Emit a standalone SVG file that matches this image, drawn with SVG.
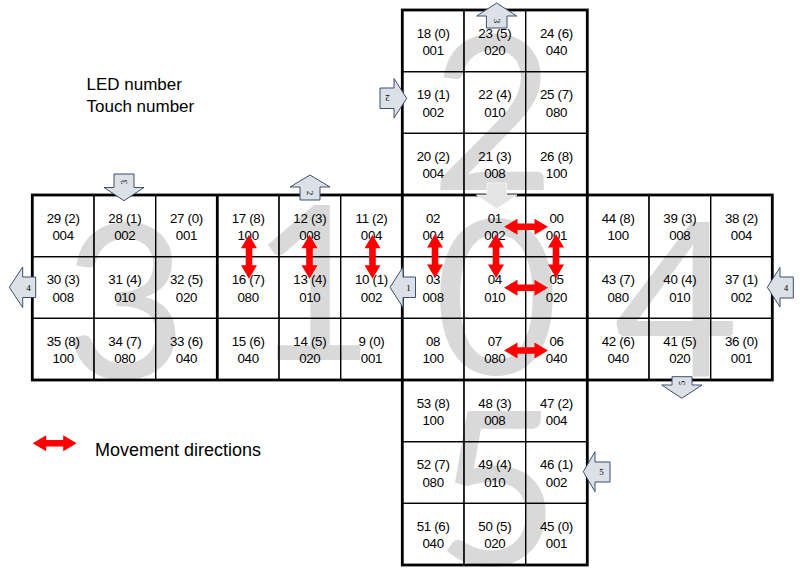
<svg xmlns="http://www.w3.org/2000/svg" width="800" height="574" viewBox="0 0 800 574">
<defs>
<style>
.bg{fill:#fff}
.big{font-family:Lato,"Open Sans",sans-serif;font-size:216px;fill:#d9d9d9;text-anchor:middle}
.cell rect{fill:none;stroke:#000;stroke-width:1.2}
.cell text{font-family:"Liberation Sans",Arial,sans-serif;font-size:13.3px;fill:#000;text-anchor:middle;letter-spacing:-0.3px}
.thick{fill:none;stroke:#000;stroke-width:2.8}
.blk{fill:#dce1e8;stroke:#3b4f6b;stroke-width:1}
.blkt{font-family:"Liberation Serif",serif;font-size:9px;fill:#000;text-anchor:middle}
.note{font-family:"Liberation Sans",Arial,sans-serif;fill:#000}
.red{fill:#ff0000}
</style>
<path id="dbl" d="M-22,0 L-8.5,-8 L-8.5,-3.3 L8.5,-3.3 L8.5,-8 L22,0 L8.5,8 L8.5,3.3 L-8.5,3.3 L-8.5,8 Z"/>
</defs>
<rect class="bg" x="0" y="0" width="800" height="574"/>

<!-- Face 2 -->
<g id="face2" transform="translate(402.3,10)">
<text class="big" x="90.7" y="180">2</text>
<g id="cell18" class="cell"><rect x="0" y="0" width="61.67" height="61.67"/><text x="30.8" y="27.5">18 (0)</text><text x="30.8" y="45">001</text></g>
<g id="cell23" class="cell"><rect x="61.67" y="0" width="61.67" height="61.67"/><text x="92.5" y="27.5">23 (5)</text><text x="92.5" y="45">020</text></g>
<g id="cell24" class="cell"><rect x="123.33" y="0" width="61.67" height="61.67"/><text x="154.2" y="27.5">24 (6)</text><text x="154.2" y="45">040</text></g>
<g id="cell19" class="cell"><rect x="0" y="61.67" width="61.67" height="61.67"/><text x="30.8" y="89.2">19 (1)</text><text x="30.8" y="106.7">002</text></g>
<g id="cell22" class="cell"><rect x="61.67" y="61.67" width="61.67" height="61.67"/><text x="92.5" y="89.2">22 (4)</text><text x="92.5" y="106.7">010</text></g>
<g id="cell25" class="cell"><rect x="123.33" y="61.67" width="61.67" height="61.67"/><text x="154.2" y="89.2">25 (7)</text><text x="154.2" y="106.7">080</text></g>
<g id="cell20" class="cell"><rect x="0" y="123.33" width="61.67" height="61.67"/><text x="30.8" y="150.8">20 (2)</text><text x="30.8" y="168.3">004</text></g>
<g id="cell21" class="cell"><rect x="61.67" y="123.33" width="61.67" height="61.67"/><text x="92.5" y="150.8">21 (3)</text><text x="92.5" y="168.3">008</text></g>
<g id="cell26" class="cell"><rect x="123.33" y="123.33" width="61.67" height="61.67"/><text x="154.2" y="150.8">26 (8)</text><text x="154.2" y="168.3">100</text></g>
</g>

<!-- Face 3 -->
<g id="face3" transform="translate(32.3,195)">
<text class="big" x="92.7" y="183">3</text>
<g id="cell29" class="cell"><rect x="0" y="0" width="61.67" height="61.67"/><text x="30.8" y="27.5">29 (2)</text><text x="30.8" y="45">004</text></g>
<g id="cell28" class="cell"><rect x="61.67" y="0" width="61.67" height="61.67"/><text x="92.5" y="27.5">28 (1)</text><text x="92.5" y="45">002</text></g>
<g id="cell27" class="cell"><rect x="123.33" y="0" width="61.67" height="61.67"/><text x="154.2" y="27.5">27 (0)</text><text x="154.2" y="45">001</text></g>
<g id="cell30" class="cell"><rect x="0" y="61.67" width="61.67" height="61.67"/><text x="30.8" y="89.2">30 (3)</text><text x="30.8" y="106.7">008</text></g>
<g id="cell31" class="cell"><rect x="61.67" y="61.67" width="61.67" height="61.67"/><text x="92.5" y="89.2">31 (4)</text><text x="92.5" y="106.7">010</text></g>
<g id="cell32" class="cell"><rect x="123.33" y="61.67" width="61.67" height="61.67"/><text x="154.2" y="89.2">32 (5)</text><text x="154.2" y="106.7">020</text></g>
<g id="cell35" class="cell"><rect x="0" y="123.33" width="61.67" height="61.67"/><text x="30.8" y="150.8">35 (8)</text><text x="30.8" y="168.3">100</text></g>
<g id="cell34" class="cell"><rect x="61.67" y="123.33" width="61.67" height="61.67"/><text x="92.5" y="150.8">34 (7)</text><text x="92.5" y="168.3">080</text></g>
<g id="cell33" class="cell"><rect x="123.33" y="123.33" width="61.67" height="61.67"/><text x="154.2" y="150.8">33 (6)</text><text x="154.2" y="168.3">040</text></g>
</g>

<!-- Face 1 -->
<g id="face1" transform="translate(217.3,195)">
<text class="big" x="95.7" y="165">1</text>
<g id="cell17" class="cell"><rect x="0" y="0" width="61.67" height="61.67"/><text x="30.8" y="27.5">17 (8)</text><text x="30.8" y="45">100</text></g>
<g id="cell12" class="cell"><rect x="61.67" y="0" width="61.67" height="61.67"/><text x="92.5" y="27.5">12 (3)</text><text x="92.5" y="45">008</text></g>
<g id="cell11" class="cell"><rect x="123.33" y="0" width="61.67" height="61.67"/><text x="154.2" y="27.5">11 (2)</text><text x="154.2" y="45">004</text></g>
<g id="cell16" class="cell"><rect x="0" y="61.67" width="61.67" height="61.67"/><text x="30.8" y="89.2">16 (7)</text><text x="30.8" y="106.7">080</text></g>
<g id="cell13" class="cell"><rect x="61.67" y="61.67" width="61.67" height="61.67"/><text x="92.5" y="89.2">13 (4)</text><text x="92.5" y="106.7">010</text></g>
<g id="cell10" class="cell"><rect x="123.33" y="61.67" width="61.67" height="61.67"/><text x="154.2" y="89.2">10 (1)</text><text x="154.2" y="106.7">002</text></g>
<g id="cell15" class="cell"><rect x="0" y="123.33" width="61.67" height="61.67"/><text x="30.8" y="150.8">15 (6)</text><text x="30.8" y="168.3">040</text></g>
<g id="cell14" class="cell"><rect x="61.67" y="123.33" width="61.67" height="61.67"/><text x="92.5" y="150.8">14 (5)</text><text x="92.5" y="168.3">020</text></g>
<g id="cell9" class="cell"><rect x="123.33" y="123.33" width="61.67" height="61.67"/><text x="154.2" y="150.8">9 (0)</text><text x="154.2" y="168.3">001</text></g>
</g>

<!-- Face 0 -->
<g id="face0" transform="translate(402.3,195)">
<text class="big" x="94.2" y="179">0</text>
<g id="cell02" class="cell"><rect x="0" y="0" width="61.67" height="61.67"/><text x="30.8" y="27.5">02</text><text x="30.8" y="45">004</text></g>
<g id="cell01" class="cell"><rect x="61.67" y="0" width="61.67" height="61.67"/><text x="92.5" y="27.5">01</text><text x="92.5" y="45">002</text></g>
<g id="cell00" class="cell"><rect x="123.33" y="0" width="61.67" height="61.67"/><text x="154.2" y="27.5">00</text><text x="154.2" y="45">001</text></g>
<g id="cell03" class="cell"><rect x="0" y="61.67" width="61.67" height="61.67"/><text x="30.8" y="89.2">03</text><text x="30.8" y="106.7">008</text></g>
<g id="cell04" class="cell"><rect x="61.67" y="61.67" width="61.67" height="61.67"/><text x="92.5" y="89.2">04</text><text x="92.5" y="106.7">010</text></g>
<g id="cell05" class="cell"><rect x="123.33" y="61.67" width="61.67" height="61.67"/><text x="154.2" y="89.2">05</text><text x="154.2" y="106.7">020</text></g>
<g id="cell08" class="cell"><rect x="0" y="123.33" width="61.67" height="61.67"/><text x="30.8" y="150.8">08</text><text x="30.8" y="168.3">100</text></g>
<g id="cell07" class="cell"><rect x="61.67" y="123.33" width="61.67" height="61.67"/><text x="92.5" y="150.8">07</text><text x="92.5" y="168.3">080</text></g>
<g id="cell06" class="cell"><rect x="123.33" y="123.33" width="61.67" height="61.67"/><text x="154.2" y="150.8">06</text><text x="154.2" y="168.3">040</text></g>
</g>

<!-- Face 4 -->
<g id="face4" transform="translate(587.3,195)">
<text class="big" x="89.2" y="182">4</text>
<g id="cell44" class="cell"><rect x="0" y="0" width="61.67" height="61.67"/><text x="30.8" y="27.5">44 (8)</text><text x="30.8" y="45">100</text></g>
<g id="cell39" class="cell"><rect x="61.67" y="0" width="61.67" height="61.67"/><text x="92.5" y="27.5">39 (3)</text><text x="92.5" y="45">008</text></g>
<g id="cell38" class="cell"><rect x="123.33" y="0" width="61.67" height="61.67"/><text x="154.2" y="27.5">38 (2)</text><text x="154.2" y="45">004</text></g>
<g id="cell43" class="cell"><rect x="0" y="61.67" width="61.67" height="61.67"/><text x="30.8" y="89.2">43 (7)</text><text x="30.8" y="106.7">080</text></g>
<g id="cell40" class="cell"><rect x="61.67" y="61.67" width="61.67" height="61.67"/><text x="92.5" y="89.2">40 (4)</text><text x="92.5" y="106.7">010</text></g>
<g id="cell37" class="cell"><rect x="123.33" y="61.67" width="61.67" height="61.67"/><text x="154.2" y="89.2">37 (1)</text><text x="154.2" y="106.7">002</text></g>
<g id="cell42" class="cell"><rect x="0" y="123.33" width="61.67" height="61.67"/><text x="30.8" y="150.8">42 (6)</text><text x="30.8" y="168.3">040</text></g>
<g id="cell41" class="cell"><rect x="61.67" y="123.33" width="61.67" height="61.67"/><text x="92.5" y="150.8">41 (5)</text><text x="92.5" y="168.3">020</text></g>
<g id="cell36" class="cell"><rect x="123.33" y="123.33" width="61.67" height="61.67"/><text x="154.2" y="150.8">36 (0)</text><text x="154.2" y="168.3">001</text></g>
</g>

<!-- Face 5 -->
<g id="face5" transform="translate(402.3,380)">
<text class="big" x="95.2" y="185">5</text>
<g id="cell53" class="cell"><rect x="0" y="0" width="61.67" height="61.67"/><text x="30.8" y="27.5">53 (8)</text><text x="30.8" y="45">100</text></g>
<g id="cell48" class="cell"><rect x="61.67" y="0" width="61.67" height="61.67"/><text x="92.5" y="27.5">48 (3)</text><text x="92.5" y="45">008</text></g>
<g id="cell47" class="cell"><rect x="123.33" y="0" width="61.67" height="61.67"/><text x="154.2" y="27.5">47 (2)</text><text x="154.2" y="45">004</text></g>
<g id="cell52" class="cell"><rect x="0" y="61.67" width="61.67" height="61.67"/><text x="30.8" y="89.2">52 (7)</text><text x="30.8" y="106.7">080</text></g>
<g id="cell49" class="cell"><rect x="61.67" y="61.67" width="61.67" height="61.67"/><text x="92.5" y="89.2">49 (4)</text><text x="92.5" y="106.7">010</text></g>
<g id="cell46" class="cell"><rect x="123.33" y="61.67" width="61.67" height="61.67"/><text x="154.2" y="89.2">46 (1)</text><text x="154.2" y="106.7">002</text></g>
<g id="cell51" class="cell"><rect x="0" y="123.33" width="61.67" height="61.67"/><text x="30.8" y="150.8">51 (6)</text><text x="30.8" y="168.3">040</text></g>
<g id="cell50" class="cell"><rect x="61.67" y="123.33" width="61.67" height="61.67"/><text x="92.5" y="150.8">50 (5)</text><text x="92.5" y="168.3">020</text></g>
<g id="cell45" class="cell"><rect x="123.33" y="123.33" width="61.67" height="61.67"/><text x="154.2" y="150.8">45 (0)</text><text x="154.2" y="168.3">001</text></g>
</g>

<!-- Thick face borders -->
<g id="borders">
<rect class="thick" x="32.3" y="195" width="740" height="185"/>
<rect class="thick" x="402.3" y="10" width="185" height="555"/>
<line class="thick" x1="217.3" y1="195" x2="217.3" y2="380"/>
</g>

<!-- Block arrows (face neighbours) -->
<g id="face-arrows">
<g id="arrow-up-3"><path class="blk" d="M496.7,3 L516.7,16 L507,16 L507,28 L486.4,28 L486.4,16 L476.7,16 Z"/><text class="blkt" transform="translate(496.7,21) rotate(90)" y="3">3</text></g>
<g id="arrow-right-2"><path class="blk" d="M380,88 L394,88 L394,78.5 L406.7,98.3 L394,118 L394,108.5 L380,108.5 Z"/><text class="blkt" transform="translate(387.5,98.3) rotate(180)" y="3">2</text></g>
<g id="arrow-down-3"><path class="blk" d="M114,174 L134,174 L134,187.5 L144,187.5 L124,200.7 L104,187.5 L114,187.5 Z"/><text class="blkt" transform="translate(124,182) rotate(-90)" y="3">3</text></g>
<g id="arrow-left-4a"><path class="blk" d="M9.3,287.3 L22.7,267 L22.7,277 L35.7,277 L35.7,297.5 L22.7,297.5 L22.7,307.5 Z"/><text class="blkt" x="28.5" y="290.5">4</text></g>
<g id="arrow-up-2"><path class="blk" d="M310,175 L330,187 L320,187 L320,200 L300,200 L300,187 L290,187 Z"/><text class="blkt" transform="translate(310,193) rotate(90)" y="3">2</text></g>
<g id="arrow-left-1"><path class="blk" d="M390,287.3 L403,267 L403,277 L415.5,277 L415.5,297.5 L403,297.5 L403,307.5 Z"/><text class="blkt" x="408.5" y="290.5">1</text></g>
<g id="arrow-down-0"><path d="M487,183 L506.5,183 L506.5,195 L517,195 L496.7,208.5 L476.5,195 L487,195 Z" fill="#e4e4e4" stroke="#f2f2f2" stroke-width="1"/></g>
<g id="arrow-left-4b"><path class="blk" d="M767.3,287.3 L780,267.5 L780,277 L793.3,277 L793.3,298 L780,298 L780,307 Z"/><text class="blkt" x="786" y="290.5">4</text></g>
<g id="arrow-down-5"><path class="blk" d="M672,376.7 L692,376.7 L692,385 L702,385 L681.8,398.3 L661.7,385 L672,385 Z"/><text class="blkt" transform="translate(682,383) rotate(-90)" y="3">5</text></g>
<g id="arrow-left-5"><path class="blk" d="M583.3,471.7 L595,451.7 L595,462 L610,462 L610,482 L595,482 L595,491.7 Z"/><text class="blkt" x="601.5" y="474.8">5</text></g>
</g>

<!-- Movement direction connectors -->
<g id="connectors" class="red">
<use href="#dbl" transform="translate(249,256.7) rotate(90)"/>
<use href="#dbl" transform="translate(309.5,256.7) rotate(90)"/>
<use href="#dbl" transform="translate(372.5,256.7) rotate(90)"/>
<use href="#dbl" transform="translate(435,256) rotate(90)"/>
<use href="#dbl" transform="translate(496,256) rotate(90)"/>
<use href="#dbl" transform="translate(556,256) rotate(90)"/>
<use href="#dbl" transform="translate(526,226.7)"/>
<use href="#dbl" transform="translate(526,287.7)"/>
<use href="#dbl" transform="translate(526,350.5)"/>
</g>

<!-- Legend -->
<g id="legend">
<text class="note" x="86.5" y="90" font-size="17">LED number</text>
<text class="note" x="86.5" y="111.7" font-size="17">Touch number</text>
<use href="#dbl" class="red" transform="translate(54.7,443.3)"/>
<text class="note" x="95" y="455.5" font-size="18">Movement directions</text>
</g>
</svg>
